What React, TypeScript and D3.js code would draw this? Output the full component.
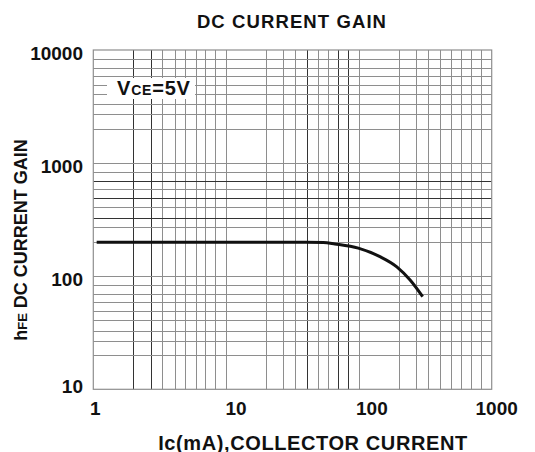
import { useEffect, useRef } from "react";
import * as d3 from "d3";

// hFE vs collector current
const currentMA = [1.06, 10, 40, 54, 66, 99, 144, 193, 243, 302];
const hfeValues = [200, 200, 200, 199, 193, 177, 149, 121, 92.5, 66];

const xTicks = [1, 10, 100, 1000];
const yTicks = [10, 100, 1000, 10000];
const xDecades = [1, 10, 100];
const yDecades = [10, 100, 1000];
// the printed grid is not a true log grid, these are the step positions inside a decade
const gridSteps = [2, 2.7, 3.3, 4.1, 4.9, 5.9, 6.95, 8.3];
const xDarkLines = [2, 2.7, 41, 69.5, 83];
const yDarkLines = [330, 490, 695];

const FONT = "'Liberation Sans', Arial, Helvetica, sans-serif";

const App = () => {
    const chartRef = useRef<SVGSVGElement | null>(null);

    useEffect(() => {
        if (!chartRef.current) return;
        d3.select(chartRef.current).selectAll("*").remove();

        const width = 535;
        const height = 452;
        const margin = { top: 50, right: 43.3, bottom: 62.7, left: 93.3 };

        const svg = d3
            .select(chartRef.current)
            .attr("width", width)
            .attr("height", height);

        svg.append("rect").attr("width", width).attr("height", height).attr("fill", "#fff");

        const x = d3.scaleLog().domain([1, 1000]).range([margin.left, width - margin.right]);
        const y = d3.scaleLog().domain([10, 10000]).range([height - margin.bottom, margin.top]);

        const isDark = (v: number, list: number[]) =>
            list.some((d) => Math.abs(d - v) / d < 0.001);

        const xGrid = xDecades.flatMap((d) => gridSteps.map((s) => s * d)).concat([10, 100]);
        const yGrid = yDecades.flatMap((d) => gridSteps.map((s) => s * d)).concat([100, 1000]);

        const grid = svg.append("g");
        grid.selectAll("line.gx")
            .data(xGrid)
            .enter()
            .append("line")
            .attr("x1", (d) => Math.round(x(d)) + 0.5)
            .attr("x2", (d) => Math.round(x(d)) + 0.5)
            .attr("y1", y(10000))
            .attr("y2", y(10))
            .attr("stroke", (d) => (isDark(d, xDarkLines) ? "#333" : "#8e8e8e"))
            .attr("stroke-width", 1);

        grid.selectAll("line.gy")
            .data(yGrid)
            .enter()
            .append("line")
            .attr("y1", (d) => Math.round(y(d)) + 0.5)
            .attr("y2", (d) => Math.round(y(d)) + 0.5)
            .attr("x1", x(1))
            .attr("x2", x(1000))
            .attr("stroke", (d) => (isDark(d, yDarkLines) ? "#333" : "#8e8e8e"))
            .attr("stroke-width", 1);

        // frame
        svg.append("rect")
            .attr("x", x(1))
            .attr("y", y(10000))
            .attr("width", x(1000) - x(1))
            .attr("height", y(10) - y(10000))
            .attr("fill", "none")
            .attr("stroke", "#8e8e8e")
            .attr("stroke-width", 1.2);

        // VCE label on a white patch
        svg.append("rect")
            .attr("x", 107)
            .attr("y", 78)
            .attr("width", 88)
            .attr("height", 21)
            .attr("fill", "#fff");
        const vce = svg.append("text")
            .attr("x", 117)
            .attr("y", 95)
            .attr("font-family", FONT)
            .attr("font-weight", "bold")
            .attr("font-size", 20)
            .attr("letter-spacing", 0.8)
            .attr("fill", "#111");
        vce.append("tspan").text("V");
        vce.append("tspan").attr("font-size", 14).text("CE");
        vce.append("tspan").text("=5V");

        // curve
        const line = d3
            .line<number>()
            .x((_, i) => x(currentMA[i]))
            .y((d) => y(d))
            .curve(d3.curveMonotoneX);

        svg.append("path")
            .datum(hfeValues)
            .attr("d", line)
            .attr("fill", "none")
            .attr("stroke", "#111")
            .attr("stroke-width", 3)
            .attr("stroke-linecap", "butt");

        // tick labels
        svg.selectAll("text.ylab")
            .data(yTicks)
            .enter()
            .append("text")
            .attr("x", 83)
            .attr("y", (d) => Math.min(y(d) + 9.5, y(10) + 4))
            .attr("text-anchor", "end")
            .attr("font-family", FONT)
            .attr("font-weight", "bold")
            .attr("font-size", 19)
            .attr("fill", "#111")
            .text((d) => String(d));

        const xShift = [2, 10, 13, 5];
        svg.selectAll("text.xlab")
            .data(xTicks)
            .enter()
            .append("text")
            .attr("x", (d, i) => x(d) + xShift[i])
            .attr("y", 415)
            .attr("text-anchor", "middle")
            .attr("font-family", FONT)
            .attr("font-weight", "bold")
            .attr("font-size", 19)
            .attr("fill", "#111")
            .text((d) => String(d));

        // title
        svg.append("text")
            .attr("x", 292)
            .attr("y", 28.3)
            .attr("text-anchor", "middle")
            .attr("font-family", FONT)
            .attr("font-weight", "bold")
            .attr("font-size", 18.5)
            .attr("letter-spacing", 1.1)
            .attr("fill", "#111")
            .text("DC CURRENT GAIN");

        // x axis title
        svg.append("text")
            .attr("x", 313)
            .attr("y", 449.5)
            .attr("text-anchor", "middle")
            .attr("font-family", FONT)
            .attr("font-weight", "bold")
            .attr("font-size", 20)
            .attr("letter-spacing", 0.6)
            .attr("fill", "#111")
            .text("Ic(mA),COLLECTOR CURRENT");

        // y axis title
        const yTitle = svg.append("text")
            .attr("transform", "translate(27,240) rotate(-90)")
            .attr("text-anchor", "middle")
            .attr("font-family", FONT)
            .attr("font-weight", "bold")
            .attr("font-size", 18)
            .attr("fill", "#111");
        yTitle.append("tspan").text("h");
        yTitle.append("tspan").attr("font-size", 13).text("FE");
        yTitle.append("tspan").text(" DC CURRENT GAIN");
    }, []);

    return (
        <div>
            <svg ref={chartRef} style={{ position: "absolute", left: 0, top: 0 }}></svg>
        </div>
    );
};

export default App;
